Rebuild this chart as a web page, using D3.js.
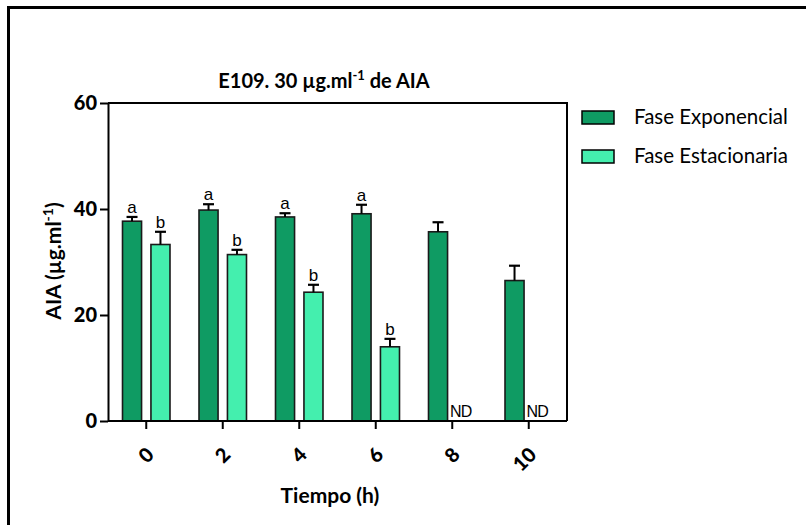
<!DOCTYPE html>
<html>
<head>
<meta charset="utf-8">
<script src="https://cdn.jsdelivr.net/npm/d3@7"></script>
<style>
  body { margin: 0; background: #fff; }
  svg { display: block; }
</style>
</head>
<body>
<script>
'use strict';

var width = 806,
    height = 525;

// data
var categories = ["0", "2", "4", "6", "8", "10"];
var seriesNames = ["Fase Exponencial", "Fase Estacionaria"];
var seriesColors = ["#0f9b63", "#44efae"];
var expMean = [37.7, 39.8, 38.5, 39.1, 35.7, 26.5];
var expErr  = [0.8, 1.1, 0.7, 1.7, 1.8, 2.8];
var estMean = [33.3, 31.4, 24.3, 14.0, null, null];
var estErr  = [2.4, 0.9, 1.4, 1.5, null, null];
var expLetters = ["a", "a", "a", "a", "", ""];
var estLetters = ["b", "b", "b", "b", "ND", "ND"];
var yTicks = [0, 20, 40, 60];

var rows = [];
categories.forEach(function(c, i) {
  rows.push({cat: c, s: 0, mean: expMean[i], err: expErr[i], letter: expLetters[i]});
  rows.push({cat: c, s: 1, mean: estMean[i], err: estErr[i], letter: estLetters[i]});
});

var plot = {left: 108, right: 567, top: 103, bottom: 421};
var font = "Lato, 'Open Sans', sans-serif";

var svg = d3.select("body").append("svg")
  .attr("width", width)
  .attr("height", height);

svg.append("rect").attr("width", width).attr("height", height).attr("fill", "#fff");

// frame lines top/left
svg.append("line").attr("x1", 7).attr("x2", width).attr("y1", 7.5).attr("y2", 7.5)
  .attr("stroke", "#000").attr("stroke-width", 3);
svg.append("line").attr("x1", 8.5).attr("x2", 8.5).attr("y1", 6).attr("y2", height)
  .attr("stroke", "#000").attr("stroke-width", 3);

var x0 = d3.scaleBand()
  .domain(categories)
  .range([plot.left, plot.right]);

var x1 = d3.scaleBand()
  .domain([0, 1])
  .range([0, x0.bandwidth()])
  .paddingInner(0.33)
  .paddingOuter(0.51);

var y = d3.scaleLinear()
  .domain([0, 60])
  .range([plot.bottom, plot.top]);

// box top + right
svg.append("path")
  .attr("d", "M" + plot.left + "," + plot.top + "H" + plot.right + "V" + plot.bottom)
  .attr("fill", "none").attr("stroke", "#000").attr("stroke-width", 2);

// bars
var bars = rows.filter(function(d) { return d.mean != null; });

svg.selectAll("rect.bar")
  .data(bars)
  .enter().append("rect")
  .attr("class", "bar")
  .attr("x", function(d) { return x0(d.cat) + x1(d.s); })
  .attr("width", x1.bandwidth())
  .attr("y", function(d) { return y(d.mean); })
  .attr("height", function(d) { return y(0) - y(d.mean); })
  .attr("fill", function(d) { return seriesColors[d.s]; })
  .attr("stroke", "#1a1a1a")
  .attr("stroke-width", 1.6);

// error bars (upper only)
var eb = svg.selectAll("g.err")
  .data(bars)
  .enter().append("g")
  .attr("class", "err")
  .attr("transform", function(d) { return "translate(" + (x0(d.cat) + x1(d.s) + x1.bandwidth() / 2) + ",0)"; });

eb.append("line")
  .attr("y1", function(d) { return y(d.mean); })
  .attr("y2", function(d) { return y(d.mean + d.err); })
  .attr("stroke", "#000").attr("stroke-width", 2);
eb.append("line")
  .attr("x1", -5.5).attr("x2", 5.5)
  .attr("y1", function(d) { return y(d.mean + d.err); })
  .attr("y2", function(d) { return y(d.mean + d.err); })
  .attr("stroke", "#000").attr("stroke-width", 2.2);

// significance letters
svg.selectAll("text.letter")
  .data(bars.filter(function(d) { return d.letter; }))
  .enter().append("text")
  .attr("class", "letter")
  .attr("x", function(d) { return x0(d.cat) + x1(d.s) + x1.bandwidth() / 2; })
  .attr("y", function(d) { return y(d.mean + d.err) - 4; })
  .attr("text-anchor", "middle")
  .style("font-family", "'Liberation Sans', Arial, sans-serif")
  .style("font-size", "17px")
  .text(function(d) { return d.letter; });

// not detected
svg.selectAll("text.nd")
  .data(rows.filter(function(d) { return d.mean == null; }))
  .enter().append("text")
  .attr("class", "nd")
  .attr("x", function(d) { return x0(d.cat) + x1(d.s) - 7; })
  .attr("y", y(0) - 4.5)
  .style("font-family", "'Liberation Sans', Arial, sans-serif")
  .style("font-size", "16px")
  .style("letter-spacing", "-0.8px")
  .text(function(d) { return d.letter; });

// axes
var yAxis = svg.append("g")
  .attr("transform", "translate(" + plot.left + ",0)")
  .call(d3.axisLeft(y).tickValues(yTicks).tickSize(8).tickSizeOuter(0).tickPadding(3));

var xAxis = svg.append("g")
  .attr("transform", "translate(0," + plot.bottom + ")")
  .call(d3.axisBottom(x0).tickSize(8).tickSizeOuter(0));

[yAxis, xAxis].forEach(function(g) {
  g.select(".domain").attr("stroke-width", 2);
  g.selectAll(".tick line").attr("stroke-width", 2);
  g.selectAll("text")
    .attr("fill", "#000")
    .style("font-family", font)
    .style("font-weight", "900")
    .style("font-size", "20px");
});

xAxis.select(".domain").attr("d", "M" + plot.left + ",0H" + plot.right);

xAxis.selectAll(".tick text")
  .attr("x", 0).attr("y", 0).attr("dy", 0)
  .attr("transform", "translate(9,35) rotate(-45)")
  .style("text-anchor", "end");

// titles
var title = svg.append("text")
  .attr("x", 324).attr("y", 88)
  .attr("text-anchor", "middle")
  .style("font-family", font).style("font-weight", "bold").style("font-size", "20px");
title.append("tspan").text("E109. 30 \u00b5g.ml");
title.append("tspan").attr("dy", -8).style("font-size", "13px").text("-1");
title.append("tspan").attr("dy", 8).text(" de AIA");

var yTitle = svg.append("text")
  .attr("transform", "translate(61,261) rotate(-90)")
  .attr("text-anchor", "middle")
  .style("font-family", font).style("font-weight", "bold").style("font-size", "21px");
yTitle.append("tspan").text("AIA (\u00b5g.ml");
yTitle.append("tspan").attr("dy", -8).style("font-size", "14px").text("-1");
yTitle.append("tspan").attr("dy", 8).text(")");

svg.append("text")
  .attr("x", 330).attr("y", 503)
  .attr("text-anchor", "middle")
  .style("font-family", font).style("font-weight", "bold").style("font-size", "21px")
  .text("Tiempo (h)");

// legend
var legend = svg.selectAll("g.legend")
  .data(seriesNames)
  .enter().append("g")
  .attr("class", "legend")
  .attr("transform", function(d, i) { return "translate(582," + (111 + i * 39) + ")"; });

legend.append("rect")
  .attr("width", 32).attr("height", 13)
  .attr("fill", function(d, i) { return seriesColors[i]; })
  .attr("stroke", "#000").attr("stroke-width", 1.5);

legend.append("text")
  .attr("x", 52).attr("y", 13)
  .style("font-family", font).style("font-size", "20.5px")
  .text(function(d) { return d; });
</script>
</body>
</html>
